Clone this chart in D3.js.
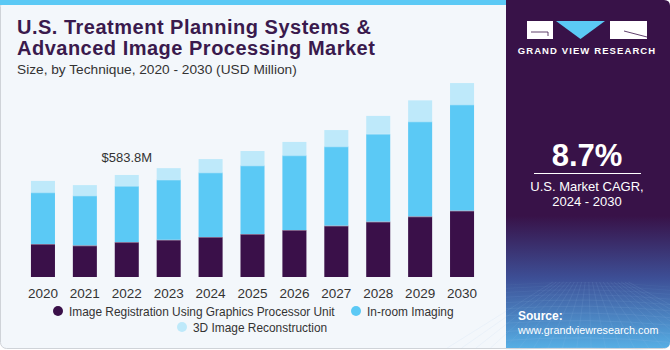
<!DOCTYPE html>
<html>
<head>
<meta charset="utf-8">
<script src="https://cdn.jsdelivr.net/npm/d3@7"></script>
<style>
  body { margin: 0; background: #ffffff; }
  svg { display: block; }
  text { font-family: "Liberation Sans", Arial, sans-serif; }
</style>
</head>
<body>
<div id="chart"></div>
<script>
let width = 670
let height = 350

// data (USD Million)
let years = ["2020", "2021", "2022", "2023", "2024", "2025", "2026", "2027", "2028", "2029", "2030"]
let imageRegistration = [189, 181, 200, 213, 229, 246, 269, 294, 317, 347, 380]
let inRoomImaging = [296, 286, 321, 345, 370, 393, 428, 454, 502, 544, 608]
let reconstruction3d = [65, 59, 63, 65, 76, 82, 76, 93, 103, 120, 122]
let seriesNames = ["Image Registration Using Graphics Processor Unit", "In-room Imaging", "3D Image Reconstruction"]
let colors = ["#3a1049", "#5bc9f5", "#bee9fa"]
let highlightYear = "2022"
let highlightLabel = "$583.8M"

let svg = d3.select("#chart").append("svg")
  .attr("width", width)
  .attr("height", height)

let defs = svg.append("defs")

// gradient for the bottom of the side panel
let grad = defs.append("linearGradient")
  .attr("id", "sideGrad")
  .attr("x1", 0).attr("y1", 0).attr("x2", 0).attr("y2", 1)
grad.append("stop").attr("offset", "0%").attr("stop-color", "#381248")
grad.append("stop").attr("offset", "62%").attr("stop-color", "#381248")
grad.append("stop").attr("offset", "80%").attr("stop-color", "#3d4f96")
grad.append("stop").attr("offset", "100%").attr("stop-color", "#56aee4")

//card background
svg.append("rect")
  .attr("x", 0.5).attr("y", 0.5)
  .attr("width", width - 1).attr("height", height - 2)
  .attr("rx", 6)
  .attr("fill", "#f3f7fb")
  .attr("stroke", "#cfd3d8")

//top blue strip
svg.append("rect")
  .attr("x", 0).attr("y", 0)
  .attr("width", 506).attr("height", 5)
  .attr("fill", "#5bc9f5")

//right dark panel
let side = svg.append("g")
side.append("path")
  .attr("d", "M506,0 H664 Q670,0 670,6 V342 Q670,348 664,348 H506 Z")
  .attr("fill", "url(#sideGrad)")

// grid lines on the bottom of the panel
let gridG = side.append("g").attr("stroke", "#9fc6ee").attr("stroke-width", 0.6).attr("fill", "none")
d3.range(0, 14).forEach(i => {
  let yy = 285 + i * i * 0.35 + i * 3
  gridG.append("path")
    .attr("d", `M506,${yy} Q588,${yy - 6} 670,${yy + 2}`)
    .attr("opacity", 0.08 + i * 0.02)
})
d3.range(0, 22).forEach(i => {
  let xx = 500 + i * 9
  gridG.append("line")
    .attr("x1", 588 + (xx - 588) * 0.4).attr("y1", 282)
    .attr("x2", xx + (xx - 588) * 0.6).attr("y2", 348)
    .attr("opacity", 0.18)
})

// logo
let logo = side.append("g")
logo.append("rect").attr("x", 527).attr("y", 21).attr("width", 26).attr("height", 18).attr("fill", "#ffffff")
logo.append("path").attr("d", "M531,32 H548 V36").attr("stroke", "#381248").attr("stroke-width", 0.8).attr("fill", "none")
logo.append("path").attr("d", "M556,21 H605 L580.5,39 Z").attr("fill", "#5bc9f5")
logo.append("rect").attr("x", 610).attr("y", 21).attr("width", 37).attr("height", 18).attr("fill", "#ffffff")
logo.append("path").attr("d", "M624,31 L647,37").attr("stroke", "#381248").attr("stroke-width", 0.8)
side.append("text")
  .attr("x", 587).attr("y", 54)
  .attr("text-anchor", "middle")
  .attr("fill", "#ffffff")
  .attr("font-size", 9.5)
  .attr("font-weight", "bold")
  .attr("letter-spacing", 1.1)
  .text("GRAND VIEW RESEARCH")

side.append("text")
  .attr("x", 587).attr("y", 166)
  .attr("text-anchor", "middle")
  .attr("fill", "#ffffff")
  .attr("font-size", 31)
  .attr("font-weight", "bold")
  .text("8.7%")
side.append("line")
  .attr("x1", 534).attr("x2", 641)
  .attr("y1", 173.5).attr("y2", 173.5)
  .attr("stroke", "#ffffff").attr("stroke-width", 1)
side.append("text")
  .attr("x", 587).attr("y", 191)
  .attr("text-anchor", "middle")
  .attr("fill", "#ffffff")
  .attr("font-size", 13)
  .text("U.S. Market CAGR,")
side.append("text")
  .attr("x", 587).attr("y", 206)
  .attr("text-anchor", "middle")
  .attr("fill", "#ffffff")
  .attr("font-size", 13)
  .text("2024 - 2030")
side.append("text")
  .attr("x", 518).attr("y", 320)
  .attr("fill", "#ffffff")
  .attr("font-size", 12)
  .attr("font-weight", "bold")
  .text("Source:")
side.append("text")
  .attr("x", 518).attr("y", 334)
  .attr("fill", "#ffffff")
  .attr("font-size", 10.8)
  .text("www.grandviewresearch.com")

//titles
svg.append("text")
  .attr("x", 17).attr("y", 34)
  .attr("fill", "#3a1a4d")
  .attr("font-size", 20)
  .attr("font-weight", "bold")
  .attr("letter-spacing", 0.5)
  .text("U.S. Treatment Planning Systems &")
svg.append("text")
  .attr("x", 17).attr("y", 55)
  .attr("fill", "#3a1a4d")
  .attr("font-size", 20)
  .attr("font-weight", "bold")
  .attr("letter-spacing", 0.5)
  .text("Advanced Image Processing Market")
svg.append("text")
  .attr("x", 17).attr("y", 74)
  .attr("fill", "#333333")
  .attr("font-size", 13.7)
  .text("Size, by Technique, 2020 - 2030 (USD Million)")

//scales
let xScale = d3.scaleBand(years, [22, 483])
  .paddingInner(0.427)
  .paddingOuter(0.2135)

let yScale = d3.scaleLinear()
  .domain([0, 1200])
  .range([277, 277 - 1200 / 5.7235])

//stack the series
let table = years.map((y, i) => ({
  year: y,
  s0: imageRegistration[i],
  s1: inRoomImaging[i],
  s2: reconstruction3d[i]
}))
let stack = d3.stack().keys(["s0", "s1", "s2"])(table)

let layers = svg.selectAll(".layer")
  .data(stack)
  .enter()
  .append("g")
  .attr("class", "layer")
  .attr("fill", (d, i) => colors[i])

layers.selectAll("rect")
  .data(d => d)
  .enter()
  .append("rect")
  .attr("x", d => xScale(d.data.year))
  .attr("width", xScale.bandwidth())
  .attr("y", d => yScale(d[1]))
  .attr("height", d => yScale(d[0]) - yScale(d[1]))

// thin separator lines between the segments
layers.filter((d, i) => i > 0).selectAll(".sep")
  .data(d => d)
  .enter()
  .append("line")
  .attr("x1", d => xScale(d.data.year))
  .attr("x2", d => xScale(d.data.year) + xScale.bandwidth())
  .attr("y1", d => yScale(d[0]) + 0.5)
  .attr("y2", d => yScale(d[0]) + 0.5)
  .attr("stroke", "#ffffff")
  .attr("stroke-opacity", 0.35)

//x axis labels
let xAxis = d3.axisBottom(xScale).tickSize(0).tickPadding(10)
svg.append("g")
  .attr("transform", "translate(0,278)")
  .call(xAxis)
  .call(g => g.select(".domain").remove())
  .selectAll("text")
  .attr("font-family", "Liberation Sans, Arial, sans-serif")
  .attr("font-size", 13.5)
  .attr("fill", "#333333")

//value label
let hi = years.indexOf(highlightYear)
svg.append("text")
  .attr("x", xScale(highlightYear) + xScale.bandwidth() / 2)
  .attr("y", yScale(imageRegistration[hi] + inRoomImaging[hi] + reconstruction3d[hi]) - 13)
  .attr("text-anchor", "middle")
  .attr("fill", "#333333")
  .attr("font-size", 13)
  .text(highlightLabel)

//legend
let legendPos = [
  { x: 58, y: 311 },
  { x: 356, y: 311 },
  { x: 182, y: 327 }
]
let legend = svg.selectAll(".legend")
  .data(seriesNames)
  .enter()
  .append("g")
  .attr("class", "legend")
  .attr("transform", (d, i) => "translate(" + legendPos[i].x + "," + legendPos[i].y + ")")
legend.append("circle")
  .attr("r", 5)
  .attr("fill", (d, i) => colors[i])
legend.append("text")
  .attr("x", 11)
  .attr("y", 4.5)
  .attr("fill", "#333333")
  .attr("font-size", 11.9)
  .text(d => d)
</script>
</body>
</html>
